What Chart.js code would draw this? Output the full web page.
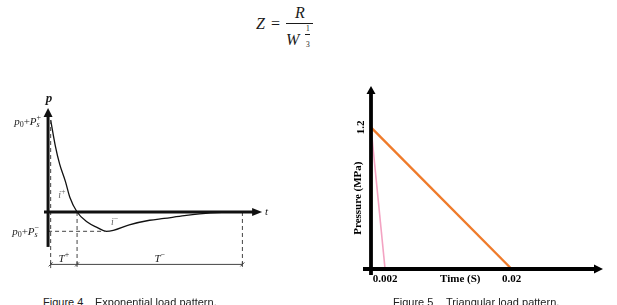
<!DOCTYPE html>
<html>
<head>
<meta charset="utf-8">
<script src="https://cdn.jsdelivr.net/npm/chart.js@4.4.1/dist/chart.umd.min.js"></script>
<style>
  body { margin: 0; background: #fff; width: 617px; height: 305px; overflow: hidden; position: relative; }
  .m { position: absolute; white-space: pre; line-height: 1; color: #1a1a1a; font-family: "Liberation Serif", serif; font-size: 16px; }
  .i { font-style: italic; }
  .bar { position: absolute; background: #1a1a1a; }
  .cap { position: absolute; white-space: pre; line-height: 11px; font-size: 11px; color: #222; font-family: "Liberation Sans", sans-serif; top: 297px; }
  canvas { position: absolute; }
</style>
</head>
<body>

<!-- Z = R / W^(1/3) -->
<div class="m i" style="left:256px;top:15.5px">Z</div>
<div class="m" style="left:271px;top:15.5px">=</div>
<div class="m i" style="left:295px;top:4.5px">R</div>
<div class="bar" style="left:286px;top:23px;width:27px;height:1px"></div>
<div class="m i" style="left:286px;top:32px">W</div>
<div class="m" style="left:306px;top:25px;font-size:7.5px">1</div>
<div class="bar" style="left:305px;top:34px;width:5px;height:0.7px"></div>
<div class="m" style="left:306px;top:40.5px;font-size:7.5px">3</div>

<canvas id="expChart" width="300" height="200" style="left:0;top:85px"></canvas>
<canvas id="triChart" width="297" height="225" style="left:320px;top:80px"></canvas>

<div class="cap" style="left:43px">Figure 4</div>
<div class="cap" style="left:95px">Exponential load pattern.</div>
<div class="cap" style="left:393px">Figure 5</div>
<div class="cap" style="left:446px">Triangular load pattern.</div>

<script>
// Figure 4 - exponential (Friedlander type) pulse, arbitrary units
const expTime = [0.9, 2.5, 4, 6, 7.5, 10, 13.5, 17, 20, 22.5, 28, 35, 40, 47, 56, 63, 67];
const expPressure = [1.0, 0.72, 0.52, 0.33, 0.16, 0, -0.11, -0.17, -0.21, -0.2, -0.14, -0.09, -0.07, -0.04, -0.01, 0, 0];
// start of pulse, end of positive phase, end of negative phase
const expPhases = [0.9, 10, 67];

// Figure 5 - triangular pulses
const triPeak = 1.2;              // MPa
const triDurations = [0.002, 0.02]; // s
const triXTicks = [0.002, 0.02];
const triXTickLabels = ['0.002', '0.02'];
const triYTicks = [1.2];

function line(ctx, x1, y1, x2, y2) {
    ctx.beginPath();
    ctx.moveTo(x1, y1);
    ctx.lineTo(x2, y2);
    ctx.stroke();
}

// thick axis line ending with a filled arrow head at (x2, y2)
function arrow(ctx, x1, y1, x2, y2, width, len, half) {
    const a = Math.atan2(y2 - y1, x2 - x1);
    const bx = x2 - Math.cos(a) * len, by = y2 - Math.sin(a) * len;
    ctx.lineWidth = width;
    line(ctx, x1, y1, bx + Math.cos(a), by + Math.sin(a));
    ctx.beginPath();
    ctx.moveTo(x2, y2);
    ctx.lineTo(bx - Math.sin(a) * half, by + Math.cos(a) * half);
    ctx.lineTo(bx + Math.sin(a) * half, by - Math.cos(a) * half);
    ctx.closePath();
    ctx.fill();
}

// text made of pieces with their own font and baseline shift
// piece: [text, font, dy, stack] - stack puts it above the previous piece
function rich(ctx, x, y, parts, align) {
    let w = 0, prevX = 0, prevEnd = 0;
    parts.forEach(p => {
        ctx.font = p[1];
        const pw = ctx.measureText(p[0]).width;
        if (p[3]) { w = Math.max(prevEnd, prevX + pw); } else { prevX = w; w += pw; }
        prevEnd = w;
    });
    let cx = align === 'right' ? x - w : align === 'center' ? x - w / 2 : x;
    const start = cx;
    let px = cx, end = cx;
    ctx.textAlign = 'left';
    ctx.textBaseline = 'alphabetic';
    parts.forEach(p => {
        ctx.font = p[1];
        const pw = ctx.measureText(p[0]).width;
        if (p[3]) {
            ctx.fillText(p[0], px, y + (p[2] || 0));
            end = Math.max(end, px + pw);
        } else {
            px = end;
            ctx.fillText(p[0], px, y + (p[2] || 0));
            end = px + pw;
        }
    });
    return end - start;
}

const serif = '"Liberation Serif", serif';
const it = 'italic 11px ' + serif;
const up = '11px ' + serif;
const sm = '8px ' + serif;
const smi = 'italic 8px ' + serif;

const expDecor = {
    id: 'expDecor',
    afterDatasetsDraw(chart) {
        const ctx = chart.ctx;
        const X = v => chart.scales.x.getPixelForValue(v);
        const Y = v => chart.scales.y.getPixelForValue(v);
        const peak = Math.max(...expPressure);
        const low = Math.min(...expPressure);
        const lowT = expTime[expPressure.indexOf(low)];
        const dimY = Y(-0.57), bottom = Y(-0.61);

        ctx.save();
        ctx.strokeStyle = '#444';
        ctx.fillStyle = '#111';
        ctx.lineWidth = 1;
        ctx.setLineDash([4, 3]);
        line(ctx, X(expPhases[0]), Y(peak), X(expPhases[0]), bottom);
        line(ctx, X(expPhases[1]), Y(0), X(expPhases[1]), bottom);
        line(ctx, X(expPhases[2]), Y(0), X(expPhases[2]), bottom);
        line(ctx, X(0), Y(low), X(lowT), Y(low));
        ctx.setLineDash([]);

        // T+ / T- dimension line with small end marks
        ctx.strokeStyle = '#444';
        line(ctx, X(expPhases[0]), dimY, X(expPhases[2]), dimY);
        expPhases.forEach(t => {
            line(ctx, X(t), dimY - 2.5, X(t), dimY + 2.5);
            line(ctx, X(t) - 2, dimY + 2, X(t) + 2, dimY - 2);
        });

        // axes
        ctx.strokeStyle = '#111';
        arrow(ctx, X(0), Y(-0.38), X(0), Y(1.13), 3, 9, 4.5);
        arrow(ctx, X(-1.4), Y(0), X(73.8), Y(0), 3, 10, 4);

        // labels
        ctx.fillStyle = '#1a1a1a';
        ctx.font = 'bold italic 13px ' + serif;
        ctx.textAlign = 'center';
        ctx.fillText('p', X(0) + 1, Y(1.13) - 6);
        rich(ctx, X(73.8) + 3, Y(0) + 3, [['t', it]]);
        rich(ctx, X(0) - 7, Y(peak) + 5, [['p', it], ['0', sm, 2], ['+', up], ['P', it], ['s', smi, 2], ['+', sm, -5, true]], 'right');
        rich(ctx, X(0) - 9, Y(low) + 4, [['p', it], ['0', sm, 2], ['+', up], ['P', it], ['s', smi, 2], ['\u2212', sm, -5, true]], 'right');
        rich(ctx, (X(expPhases[0]) + X(expPhases[1])) / 2, dimY - 2, [['T', it], ['+', sm, -5]], 'center');
        rich(ctx, (X(expPhases[1]) + X(expPhases[2])) / 2, dimY - 2, [['T', it], ['\u2212', sm, -5]], 'center');
        ctx.fillStyle = '#666';
        rich(ctx, X(3.5), Y(0.15), [['i', 'italic 10px ' + serif], ['+', '8px ' + serif, -4]]);
        rich(ctx, X(21.7), Y(-0.14), [['i', 'italic 10px ' + serif], ['\u2212', '8px ' + serif, -4]]);
        ctx.restore();
    }
};

new Chart(document.getElementById('expChart'), {
    type: 'line',
    data: {
        datasets: [{
            data: expTime.map((t, i) => ({ x: t, y: expPressure[i] })),
            borderColor: '#111',
            borderWidth: 1.3,
            pointRadius: 0,
            cubicInterpolationMode: 'monotone',
            clip: false
        }]
    },
    options: {
        responsive: false,
        animation: false,
        layout: { padding: { left: 44, right: 37.3, top: 14.8, bottom: 16 } },
        plugins: { legend: { display: false }, tooltip: { enabled: false } },
        scales: {
            x: { type: 'linear', min: -1.4, max: 74, display: false },
            y: { type: 'linear', min: -0.62, max: 1.22, display: false }
        }
    },
    plugins: [expDecor]
});

const triDecor = {
    id: 'triDecor',
    afterDatasetsDraw(chart) {
        const ctx = chart.ctx;
        const x = chart.scales.x, y = chart.scales.y;
        const x0 = x.getPixelForValue(0), y0 = y.getPixelForValue(0);

        ctx.save();
        ctx.strokeStyle = '#000';
        ctx.fillStyle = '#000';
        arrow(ctx, x0, y0 + 6, x0, chart.chartArea.top, 3.8, 8, 4.5);
        arrow(ctx, x0 - 8, y0, chart.chartArea.right, y0, 3.8, 9, 4.5);

        ctx.font = 'bold 11px ' + serif;
        ctx.textAlign = 'center';
        ctx.textBaseline = 'middle';
        triXTicks.forEach((v, i) => ctx.fillText(triXTickLabels[i], x.getPixelForValue(v), y0 + 10));
        ctx.fillText('Time (S)', x.getPixelForValue(0.0127), y0 + 10);

        // vertical texts, reading bottom to top
        triYTicks.forEach(v => {
            ctx.save();
            ctx.translate(x0 - 10, y.getPixelForValue(v));
            ctx.rotate(-Math.PI / 2);
            ctx.fillText(v.toFixed(1), 0, 0);
            ctx.restore();
        });
        ctx.save();
        ctx.translate(x0 - 13, y.getPixelForValue(triPeak / 2));
        ctx.rotate(-Math.PI / 2);
        ctx.fillText('Pressure (MPa)', 0, 0);
        ctx.restore();
        ctx.restore();
    }
};

new Chart(document.getElementById('triChart'), {
    type: 'line',
    data: {
        datasets: [{
            data: [{ x: 0, y: triPeak }, { x: triDurations[0], y: 0 }],
            borderColor: '#f3a3c2',
            borderWidth: 1.6,
            pointRadius: 0,
            clip: false
        }, {
            data: [{ x: 0, y: triPeak }, { x: triDurations[1], y: 0 }],
            borderColor: '#ef7b2b',
            borderWidth: 2.4,
            pointRadius: 0,
            clip: false
        }]
    },
    options: {
        responsive: false,
        animation: false,
        layout: { padding: { left: 51, right: 14, top: 6, bottom: 36 } },
        plugins: { legend: { display: false }, tooltip: { enabled: false } },
        scales: {
            x: { type: 'linear', min: 0, max: 0.033, display: false },
            y: { type: 'linear', min: 0, max: 1.55, display: false }
        }
    },
    plugins: [triDecor]
});
</script>
</body>
</html>
